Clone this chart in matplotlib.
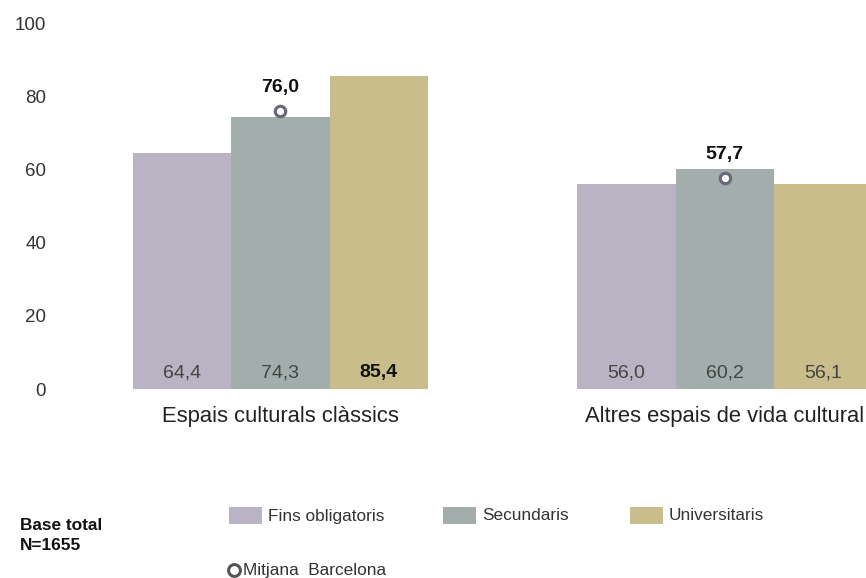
import matplotlib
matplotlib.use('Agg')
import matplotlib.pyplot as plt
from matplotlib.patches import Rectangle
from matplotlib.lines import Line2D
import numpy as np

plt.rcParams['font.family'] = ['Liberation Sans', 'DejaVu Sans']

categories = ["Espais culturals clàssics", "Altres espais de vida cultural"]
series = ["Fins obligatoris", "Secundaris", "Universitaris"]
values = {
    "Fins obligatoris": [64.4, 56.0],
    "Secundaris": [74.3, 60.2],
    "Universitaris": [85.4, 56.1],
}
mitjana = [76.0, 57.7]
bold_labels = [(0, "Universitaris")]  # highlighted value
colors = {"Fins obligatoris": "#b9b3c3", "Secundaris": "#a3adab", "Universitaris": "#c8bd8b"}

W, H = 866, 578
fig = plt.figure(figsize=(W / 100, H / 100), dpi=100)

# axes placed in pixel terms
px_left, px_right, px_bottom, px_top = 60, 866, 389, 23
ax = fig.add_axes([px_left / W, 1 - px_bottom / H, (px_right - px_left) / W, (px_bottom - px_top) / H])

bar_w = 1.0
group_start = [0.0, 4.52]
scale = 98.3  # px per bar
x0 = (px_left - 133) / scale
x1 = x0 + (px_right - px_left) / scale

for g, cat in enumerate(categories):
    for i, s in enumerate(series):
        left = group_start[g] + i * bar_w
        v = values[s][g]
        ax.bar(left, v, width=bar_w, align='edge', color=colors[s], edgecolor='none')
        bold = (g, s) in bold_labels
        ax.text(left + bar_w / 2, 4.4, f"{v:.1f}".replace('.', ','), ha='center', va='center',
                fontsize=14, color='#111111' if bold else '#444444',
                fontweight='bold' if bold else 'normal')
    # Mitjana Barcelona marker on the middle bar
    cx = group_start[g] + 1.5 * bar_w
    ax.plot(cx, mitjana[g], 'o', ms=7.5, mfc='white', mec='#6c687c', mew=2.3, zorder=5)
    ax.annotate(f"{mitjana[g]:.1f}".replace('.', ','), (cx, mitjana[g]), xytext=(0, 16.5),
                textcoords='offset points', ha='center', va='center', fontsize=14,
                fontweight='bold', color='#111111')
    ax.text(group_start[g] + 1.5 * bar_w, -7.5, cat, ha='center', va='center', fontsize=15.8,
            color='#222222')

ax.set_xlim(x0, x1)
ax.set_ylim(0, 100)
ax.set_yticks(np.arange(0, 101, 20))
ax.set_xticks([])
ax.tick_params(axis='y', length=0, pad=10, labelsize=13.5, labelcolor='#333333')
for sp in ax.spines.values():
    sp.set_visible(False)

# legend, laid out by hand in pixel positions
legend_pos = {"Fins obligatoris": 229, "Secundaris": 443, "Universitaris": 630}
for s in series:
    lx = legend_pos[s]
    fig.add_artist(Rectangle((lx / W, 1 - 524 / H), 33 / W, 17 / H, transform=fig.transFigure,
                             color=colors[s], lw=0))
    fig.text((lx + 39) / W, 1 - 516 / H, s, ha='left', va='center', fontsize=12.4, color='#333333')

fig.add_artist(Line2D([234 / W], [1 - 570 / H], marker='o', ms=8.5, mfc='white', mec='#555555',
                      mew=2.2, transform=fig.transFigure))
fig.text(243 / W, 1 - 570 / H, "Mitjana  Barcelona", ha='left', va='center', fontsize=12.4, color='#333333')

fig.text(20 / W, 1 - 525 / H, "Base total", ha='left', va='center', fontsize=12.4,
         fontweight='bold', color='#111111')
fig.text(20 / W, 1 - 546 / H, "N=1655", ha='left', va='center', fontsize=12.4,
         fontweight='bold', color='#111111')

fig.savefig('out.png', dpi=100)
